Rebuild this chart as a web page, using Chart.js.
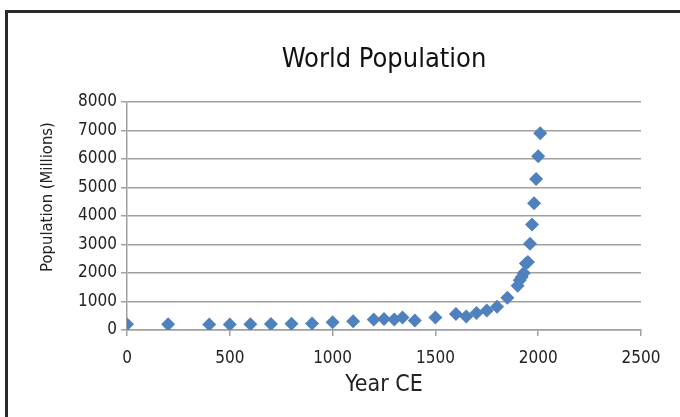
<!DOCTYPE html>
<html>
<head>
<meta charset="utf-8">
<script src="https://cdn.jsdelivr.net/npm/chart.js@4"></script>
<style>
  html, body { margin: 0; padding: 0; background: #fff; }
  #wrap { position: relative; width: 680px; height: 417px; overflow: hidden; }
  #frame { position: absolute; left: 5px; top: 10px; width: 700px; height: 450px;
           border: 3px solid #2a2a2a; box-sizing: border-box; pointer-events: none; }
  canvas { position: absolute; left: 0; top: 0; }
</style>
</head>
<body>
<div id="wrap">
  <canvas id="c" width="680" height="417"></canvas>
  <div id="frame"></div>
</div>
<script>
const years = [0, 200, 400, 500, 600, 700, 800, 900, 1000, 1100, 1200, 1250, 1300, 1340, 1400,
  1500, 1600, 1650, 1700, 1750, 1800, 1850, 1900, 1910, 1920, 1930, 1940, 1950, 1960, 1970,
  1980, 1990, 2000, 2010];
const population = [200, 200, 195, 195, 205, 210, 220, 230, 270, 310, 370, 390, 370, 440, 330,
  440, 560, 470, 600, 680, 815, 1130, 1550, 1750, 1860, 2000, 2330, 2390, 3030, 3700,
  4450, 5300, 6100, 6900];
const chartTitle = 'World Population';
const xTitle = 'Year CE';
const yTitle = 'Population (Millions)';

const FONT = "'Liberation Sans Narrow', 'DejaVu Sans Condensed', 'Liberation Sans', sans-serif";
const points = years.map((y, i) => ({ x: y, y: population[i] }));

// Title centred over the plot area and y-axis title, drawn as canvas text
const titlesPlugin = {
  id: 'titles',
  afterDraw(chart) {
    const { ctx, chartArea } = chart;
    ctx.save();
    ctx.fillStyle = '#111';
    ctx.textAlign = 'center';
    ctx.textBaseline = 'alphabetic';
    ctx.font = "27px " + FONT;
    ctx.fillText(chartTitle, (chartArea.left + chartArea.right) / 2, 67);
    ctx.translate(48, 197);
    ctx.rotate(-Math.PI / 2);
    ctx.textBaseline = 'middle';
    ctx.fillStyle = '#222';
    ctx.font = "16.5px " + FONT;
    ctx.fillText(yTitle, 0, 0);
    ctx.restore();
  }
};

new Chart(document.getElementById('c'), {
  type: 'scatter',
  data: {
    datasets: [{
      data: points,
      pointStyle: 'rectRot',
      pointRadius: 7,
      pointHoverRadius: 7,
      backgroundColor: '#4f81bd',
      borderColor: '#4f81bd',
      borderWidth: 0
    }]
  },
  plugins: [titlesPlugin],
  options: {
    responsive: false,
    animation: false,
    devicePixelRatio: 1,
    layout: { padding: { left: 0, right: 39, top: 102, bottom: 0 } },
    plugins: {
      legend: { display: false },
      tooltip: { enabled: false },
      title: { display: false }
    },
    scales: {
      x: {
        type: 'linear',
        min: 0, max: 2500,
        afterFit: s => { s.height = 87; },
        ticks: { stepSize: 500, color: '#222', padding: 12,
                 callback: v => String(v),
                 font: { family: FONT, size: 17 } },
        grid: { drawOnChartArea: false, drawTicks: true, tickLength: 6,
                color: '#a0a0a0', lineWidth: 1.5 },
        border: { display: true, color: '#a0a0a0', width: 1.5 },
        title: { display: true, text: xTitle, color: '#222',
                 font: { family: FONT, size: 23 }, padding: { top: 0, bottom: 18 } }
      },
      y: {
        type: 'linear',
        min: 0, max: 8000,
        afterFit: s => { s.width = 127; },
        ticks: { stepSize: 1000, color: '#222', padding: 4,
                 callback: v => String(v),
                 font: { family: FONT, size: 17 } },
        grid: { drawOnChartArea: true, drawTicks: true, tickLength: 6,
                color: '#a0a0a0', lineWidth: 1.5 },
        border: { display: true, color: '#a0a0a0', width: 1.5 },
        title: { display: false }
      }
    }
  }
});
</script>
</body>
</html>
